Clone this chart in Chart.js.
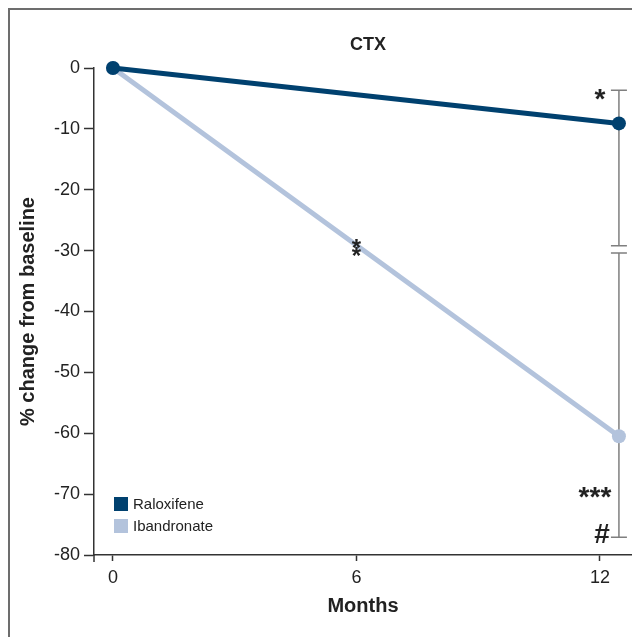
<!DOCTYPE html>
<html>
<head>
    <meta charset="UTF-8">
    <title>CTX</title>
    <script src="https://cdn.jsdelivr.net/npm/chart.js"></script>
    <style>
        html, body {
            margin: 0;
            padding: 0;
            background: #ffffff;
        }

        #chart-container {
            width: 632px;
            height: 637px;
        }
    </style>
</head>
<body>
<div id="chart-container">
    <canvas id="ctxChart"></canvas>
</div>

<script>
    // Data
    const months = [0, 12];
    const raloxifene = [0, -9.1];
    const ibandronate = [0, -60.5];
    const xTickValues = [0, 6, 12];
    const yTickValues = [0, -10, -20, -30, -40, -50, -60, -70, -80];

    // error bars at 12 months (upper end, lower end)
    const raloxifeneBar = [-3.65, -29.2];
    const ibandronateBar = [-30.4, -77.1];

    const DARK = '#00416F';
    const LIGHT = '#B3C3DC';
    const FONT = "'Liberation Sans Narrow', 'Arial Narrow', 'Liberation Sans', Arial, sans-serif";

    const overlay = {
        id: 'overlay',
        beforeDatasetsDraw(chart) {
            const ctx = chart.ctx;
            const xd = chart.scales.xd;
            const y = chart.scales.y;
            const a = chart.chartArea;
            const x12 = xd.getPixelForValue(12);

            ctx.save();
            // frame around the figure
            ctx.strokeStyle = '#6d6d6d';
            ctx.lineWidth = 2;
            ctx.beginPath();
            ctx.moveTo(9, 640);
            ctx.lineTo(9, 9);
            ctx.lineTo(640, 9);
            ctx.stroke();

            // y axis runs a little below the x axis
            ctx.strokeStyle = '#333';
            ctx.lineWidth = 1.5;
            ctx.beginPath();
            ctx.moveTo(a.left, a.bottom);
            ctx.lineTo(a.left, a.bottom + 7);
            ctx.stroke();

            // error bars
            ctx.strokeStyle = '#7f7f7f';
            ctx.lineWidth = 1.5;
            [raloxifeneBar, ibandronateBar].forEach(bar => {
                const y1 = y.getPixelForValue(bar[0]);
                const y2 = y.getPixelForValue(bar[1]);
                ctx.beginPath();
                ctx.moveTo(x12, y1);
                ctx.lineTo(x12, y2);
                ctx.moveTo(x12 - 8, y1);
                ctx.lineTo(x12 + 8, y1);
                ctx.moveTo(x12 - 8, y2);
                ctx.lineTo(x12 + 8, y2);
                ctx.stroke();
            });
            ctx.restore();
        },
        afterDatasetsDraw(chart) {
            const ctx = chart.ctx;
            const x = chart.scales.x;
            const xd = chart.scales.xd;
            const y = chart.scales.y;
            const a = chart.chartArea;
            const x12 = xd.getPixelForValue(12);

            ctx.save();
            ctx.fillStyle = '#222';
            ctx.textAlign = 'center';
            ctx.textBaseline = 'middle';

            // title
            ctx.font = 'bold 18px ' + FONT;
            ctx.fillText('CTX', (a.left + a.right) / 2 + 5, 45);

            // significance marks
            ctx.font = 'bold 28px ' + FONT;
            ctx.textBaseline = 'alphabetic';
            ctx.fillText('*', x12 - 19, y.getPixelForValue(raloxifeneBar[0]) + 18);
            ctx.fillText('***', x12 - 24, y.getPixelForValue(-70) + 12);
            ctx.font = 'bold 24px ' + FONT;
            ctx.fillText('*', x.getPixelForValue(6), y.getPixelForValue(-29) + 11);
            ctx.fillText('*', x.getPixelForValue(6), y.getPixelForValue(-29) + 19);
            ctx.font = 'bold 28px ' + FONT;
            ctx.fillText('#', x12 - 17, y.getPixelForValue(ibandronateBar[1]) + 6);

            // legend
            ctx.textAlign = 'left';
            ctx.textBaseline = 'middle';
            ctx.font = '15px ' + FONT;
            chart.data.datasets.forEach((ds, i) => {
                const cy = 504 + i * 22;
                ctx.fillStyle = ds.borderColor;
                ctx.fillRect(114, cy - 7, 14, 14);
                ctx.fillStyle = '#222';
                ctx.fillText(ds.label, 133, cy + 1);
            });
            ctx.restore();
        }
    };

    const ctx = document.getElementById('ctxChart').getContext('2d');
    new Chart(ctx, {
        type: 'line',
        data: {
            datasets: [
                {
                    label: 'Raloxifene',
                    data: months.map((m, i) => ({x: m, y: raloxifene[i]})),
                    xAxisID: 'xd',
                    borderColor: DARK,
                    backgroundColor: DARK,
                    borderWidth: 5,
                    pointRadius: 7,
                    pointBorderWidth: 0,
                    fill: false,
                    clip: false,
                    tension: 0
                },
                {
                    label: 'Ibandronate',
                    data: months.map((m, i) => ({x: m, y: ibandronate[i]})),
                    xAxisID: 'xd',
                    borderColor: LIGHT,
                    backgroundColor: LIGHT,
                    borderWidth: 5,
                    pointRadius: 7,
                    pointBorderWidth: 0,
                    fill: false,
                    clip: false,
                    tension: 0
                }
            ]
        },
        options: {
            responsive: true,
            maintainAspectRatio: false,
            animation: false,
            layout: {
                autoPadding: false,
                padding: {top: 68, right: 0, bottom: 0, left: 0}
            },
            scales: {
                xd: {
                    type: 'linear',
                    position: 'bottom',
                    display: false,
                    min: -0.45,
                    max: 12.31
                },
                x: {
                    type: 'linear',
                    position: 'bottom',
                    min: -0.468,
                    max: 12.79,
                    afterBuildTicks: scale => {
                        scale.ticks = xTickValues.map(v => ({value: v}));
                    },
                    afterFit: scale => {
                        scale.height = 82;
                    },
                    border: {color: '#333', width: 1.5},
                    grid: {
                        drawOnChartArea: false,
                        drawTicks: true,
                        tickLength: 6,
                        tickWidth: 1.5,
                        tickColor: '#333'
                    },
                    ticks: {
                        color: '#222',
                        padding: 6,
                        maxRotation: 0,
                        font: {family: FONT, size: 18}
                    },
                    title: {
                        display: true,
                        text: 'Months',
                        color: '#222',
                        padding: {top: 0, bottom: 19},
                        font: {family: FONT, size: 20, weight: 'bold'}
                    }
                },
                y: {
                    min: -80,
                    max: 0,
                    afterBuildTicks: scale => {
                        scale.ticks = yTickValues.map(v => ({value: v}));
                    },
                    afterFit: scale => {
                        scale.width = 94;
                    },
                    border: {color: '#333', width: 1.5},
                    grid: {
                        drawOnChartArea: false,
                        drawTicks: true,
                        tickLength: 10,
                        tickWidth: 1.5,
                        tickColor: '#333'
                    },
                    ticks: {
                        color: '#222',
                        padding: 4,
                        font: {family: FONT, size: 18}
                    },
                    title: {
                        display: true,
                        text: '% change from baseline',
                        color: '#222',
                        padding: {top: 16, bottom: 0},
                        font: {family: FONT, size: 20, weight: 'bold'}
                    }
                }
            },
            plugins: {
                legend: {display: false},
                tooltip: {enabled: false}
            }
        },
        plugins: [overlay]
    });
</script>
</body>
</html>
